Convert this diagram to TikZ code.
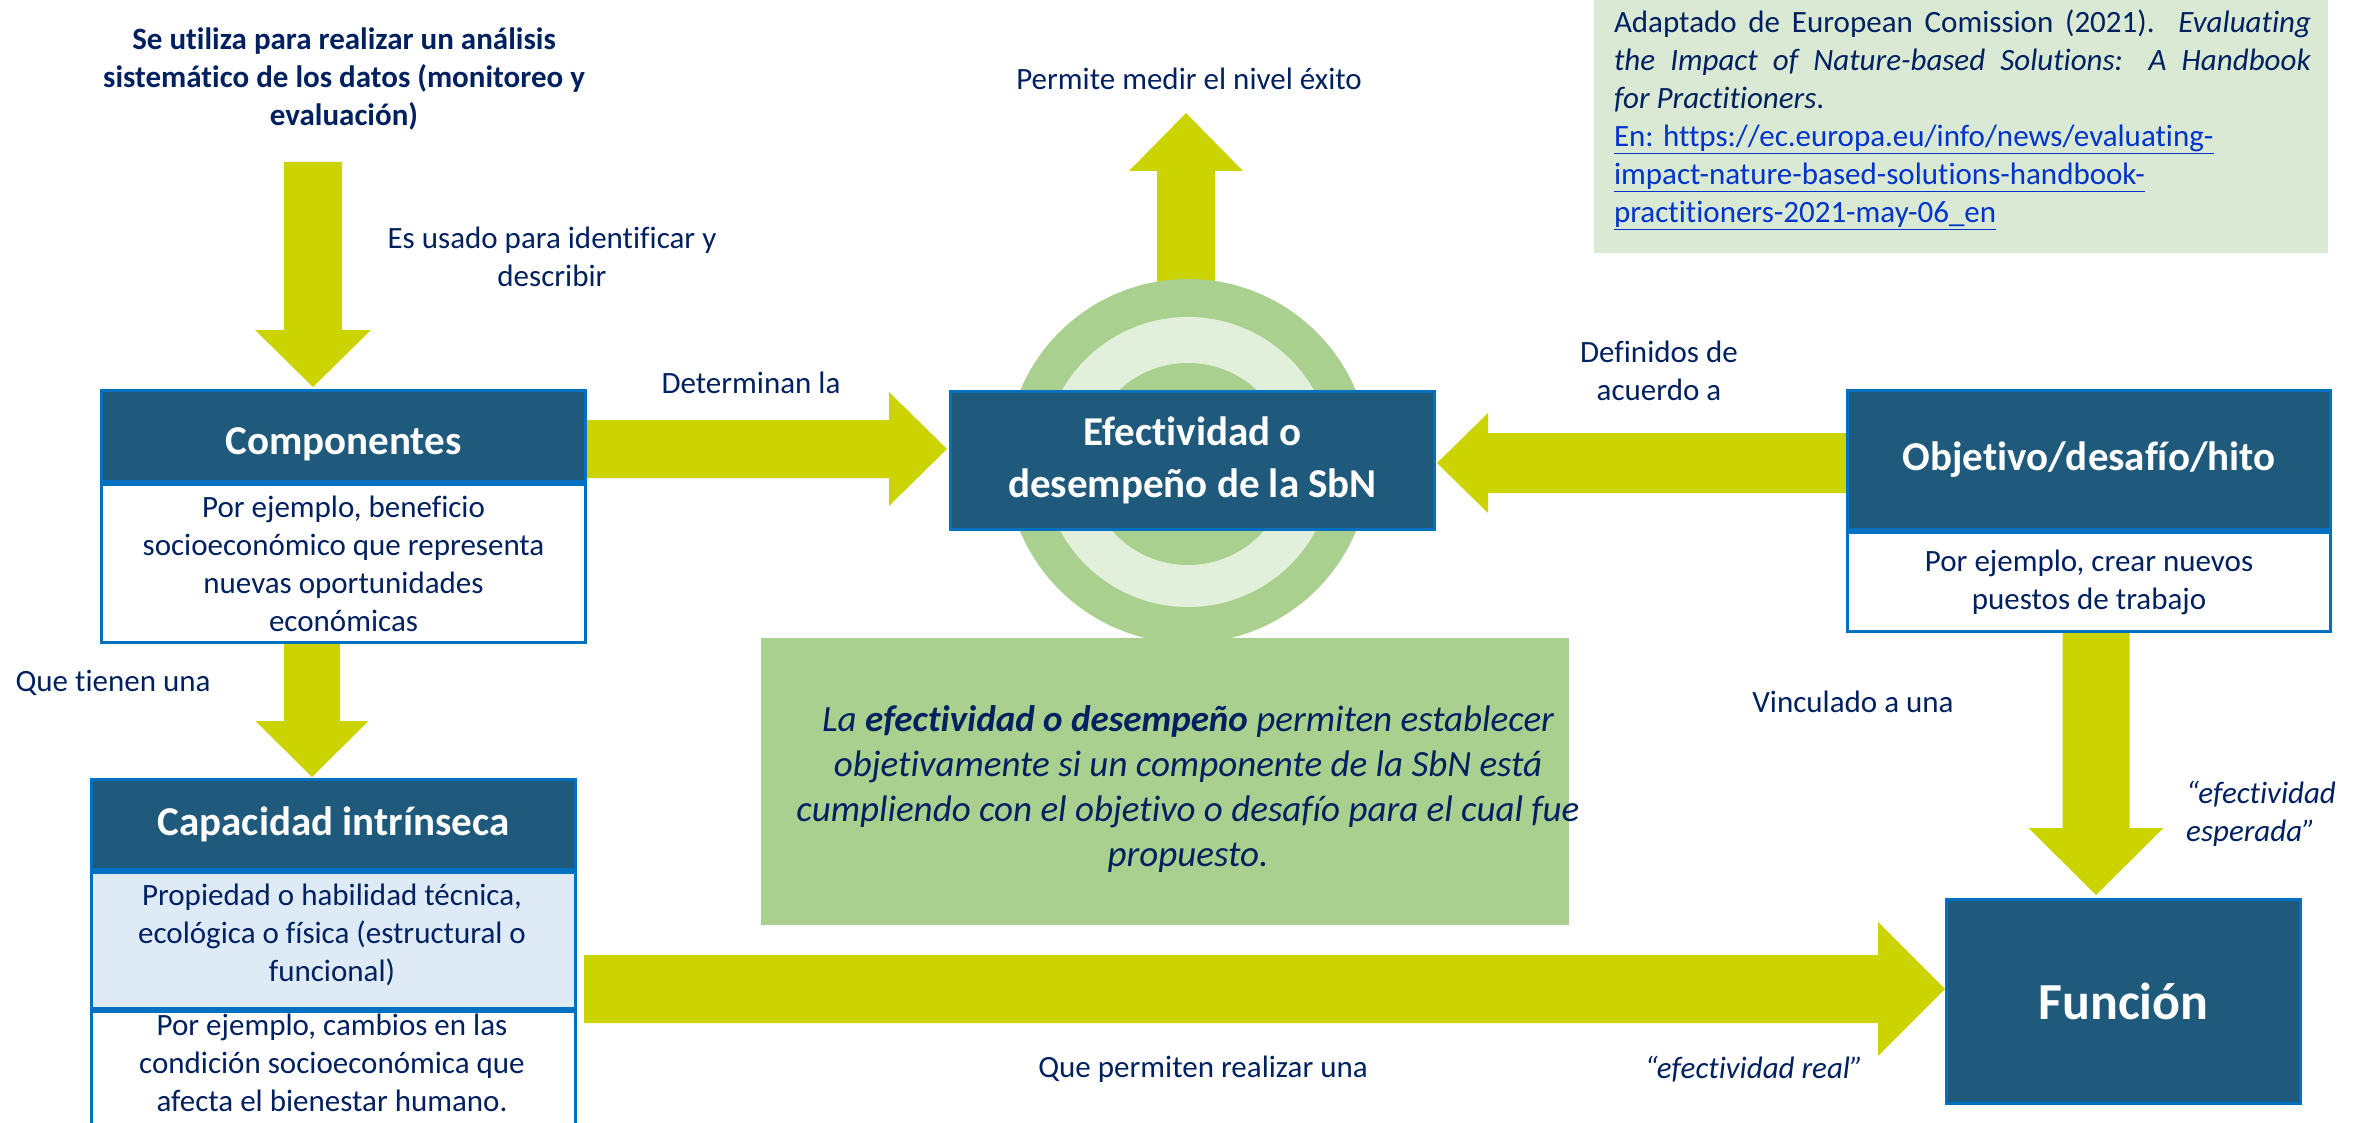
\documentclass[tikz,border=0pt]{standalone}
\usepackage{fontspec}
\setmainfont{Carlito}[Ligatures={NoCommon}]
\usetikzlibrary{calc}
\definecolor{navy}{HTML}{002060}
\definecolor{hdrc}{HTML}{1F5A7C}
\definecolor{bordc}{HTML}{0070C0}
\definecolor{arrc}{HTML}{CBD300}
\definecolor{grn}{HTML}{A9D08E}
\definecolor{lgrn}{HTML}{E2EFDA}
\definecolor{refc}{HTML}{DAE9D4}
\definecolor{lblue}{HTML}{DEEBF7}
\definecolor{linkc}{HTML}{0033CC}
\newcommand\blockarrow[5]{%
  \coordinate (bac) at ($(#2)!#5!(#1)$);
  \fill[arrc] ($(#1)!#3!90:(#2)$) -- ($(bac)!#3!-90:(#1)$) -- ($(bac)!#4!-90:(#1)$) -- (#2)
    -- ($(bac)!#4!90:(#1)$) -- ($(bac)!#3!90:(#1)$) -- ($(#1)!#3!-90:(#2)$) -- cycle;}
\tikzset{
  hdr/.style={fill=hdrc, draw=bordc, line width=3pt, text=white,
    font=\fontsize{41}{52}\selectfont\bfseries, inner sep=0pt, align=center, anchor=north west},
  bodyb/.style={fill=white, draw=bordc, line width=3pt, text=navy,
    font=\fontsize{31}{38}\selectfont, inner sep=0pt, align=center, anchor=north west},
  lbl/.style={text=navy, font=\fontsize{31}{38}\selectfont, inner sep=0pt, align=center},
  ring/.style={circle, inner sep=0pt, draw=none}
}
\begin{document}
\begin{tikzpicture}[x=1pt,y=-1pt]
\useasboundingbox (0,0) rectangle (2366,1123);
% reference box
\node[fill=refc, minimum width=734pt, minimum height=263pt, anchor=north west, inner sep=0pt] (ref) at (1594,-10) {};
\node[lbl, align=left] (reft) at (1962.5,119.5) {%
\makebox[697pt][s]{Adaptado de European Comission (2021). \textit{Evaluating}}\\
\makebox[697pt][s]{\textit{the Impact of Nature-based Solutions: A Handbook}}\\
\textit{for Practitioners}.\\
{\color{linkc}\underline{En: https://ec.europa.eu/info/news/evaluating-}}\\
{\color{linkc}\underline{impact-nature-based-solutions-handbook-}}\\
{\color{linkc}\underline{practitioners-2021-may-06\_en}}};
% arrow coordinates
\coordinate (a1s) at (313,162); \coordinate (a1e) at (313,387);
\coordinate (a2s) at (584,449); \coordinate (a2e) at (947,449);
\coordinate (a3s) at (1186,300); \coordinate (a3e) at (1186,113);
\coordinate (a4s) at (1846,463); \coordinate (a4e) at (1437,463);
\coordinate (a5s) at (2096,627); \coordinate (a5e) at (2096,895);
\coordinate (a6s) at (584,989); \coordinate (a6e) at (1945,989);
\coordinate (a7s) at (312,638); \coordinate (a7e) at (312,777);
\blockarrow{a1s}{a1e}{29pt}{58pt}{57pt}
\blockarrow{a2s}{a2e}{29pt}{57pt}{58pt}
\blockarrow{a3s}{a3e}{29pt}{57pt}{58pt}
\blockarrow{a4s}{a4e}{30pt}{50pt}{51pt}
\blockarrow{a5s}{a5e}{33.5pt}{67.5pt}{67pt}
\blockarrow{a6s}{a6e}{34pt}{67pt}{67pt}
\blockarrow{a7s}{a7e}{28pt}{56.5pt}{56pt}
% rings
\node[ring, fill=grn, minimum size=364pt] (r1) at (1188,461) {};
\node[ring, fill=lgrn, minimum size=290pt] (r2) at (1188,462) {};
\node[ring, fill=grn, minimum size=202pt] (r3) at (1188,464) {};
% boxes
\node[hdr, minimum width=484pt, minimum height=91pt, text height=45pt, text depth=8pt] (comp) at (100,389) {Componentes};
\node[bodyb, minimum width=484pt, minimum height=158pt] (compb) at (comp.south west)
  {Por ejemplo, beneficio\\socioeconómico que representa\\nuevas oportunidades\\económicas};
\node[hdr, minimum width=484pt, minimum height=138pt] (sbn) at (949,390) {Efectividad o\\desempeño de la SbN};
\node[hdr, minimum width=483pt, minimum height=139pt] (obj) at (1846,389) {Objetivo/desafío/hito};
\node[bodyb, minimum width=483pt, minimum height=99pt] (objb) at (obj.south west)
  {Por ejemplo, crear nuevos\\puestos de trabajo};
\node[hdr, minimum width=354pt, minimum height=204pt, font=\fontsize{52}{62}\selectfont\bfseries] (fun) at (1945,898) {Función};
\node[hdr, minimum width=484pt, minimum height=90pt] (cap) at (90,778) {Capacidad intrínseca};
\node[bodyb, fill=lblue, minimum width=484pt, minimum height=136pt] (capl) at (cap.south west) {};
\node[lbl] (capltext) at (332,935)
  {Propiedad o habilidad técnica,\\ecológica o física (estructural o\\funcional)};
\node[bodyb, minimum width=484pt, minimum height=140pt] (capw) at (capl.south west) {};
\node[lbl] (capwtext) at (332,1063)
  {Por ejemplo, cambios en las\\condición socioeconómica que\\afecta el bienestar humano.};
% green text box
\node[fill=grn, minimum width=808pt, minimum height=287pt, anchor=north west, inner sep=0pt] (gbox) at (761,638) {};
\node[lbl, font=\fontsize{37}{45}\selectfont\itshape] (gtext) at (1188,789)
  {La \textbf{efectividad o desempeño} permiten establecer\\objetivamente si un componente de la SbN está\\cumpliendo con el objetivo o desafío para el cual fue\\propuesto.};
% labels
\node[lbl, font=\fontsize{31}{38}\selectfont\bfseries] (title) at (344,79)
  {Se utiliza para realizar un análisis\\sistemático de los datos (monitoreo y\\evaluación)};
\node[lbl] (l1) at (552,257) {Es usado para identificar y\\describir};
\node[lbl] (l2) at (751,383) {Determinan la};
\node[lbl] (l3) at (1189,79) {Permite medir el nivel éxito};
\node[lbl] (l4) at (1659,371) {Definidos de\\acuerdo a};
\node[lbl] (l5) at (113,683) {Que tienen una};
\node[lbl] (l6) at (1853,702) {Vinculado a una};
\node[lbl, font=\fontsize{31}{38}\selectfont\itshape, align=left, anchor=west] (l7) at (2186,814) {“efectividad\\esperada”};
\node[lbl] (l8) at (1203,1069) {Que permiten realizar una};
\node[lbl, font=\fontsize{31}{38}\selectfont\itshape] (l9) at (1754,1069) {“efectividad real”};
\end{tikzpicture}
\end{document}
